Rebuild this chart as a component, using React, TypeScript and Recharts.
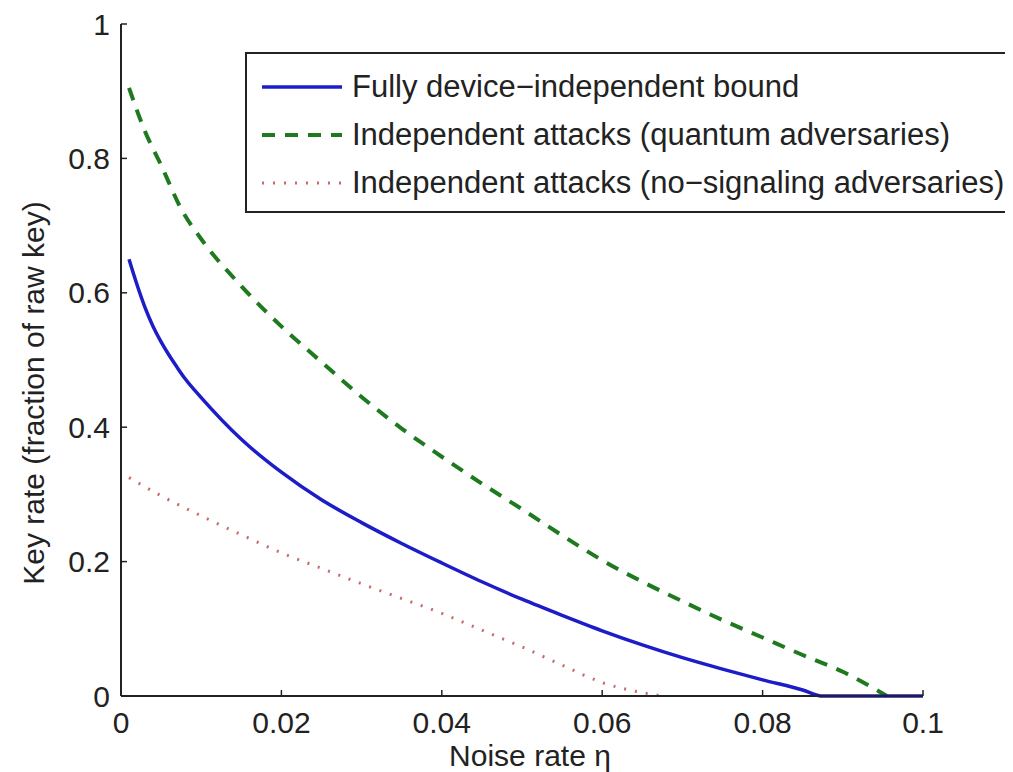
import { CartesianGrid, Legend, Line, LineChart, XAxis, YAxis } from "recharts";

// noise rate η vs key rate
const etaFull = [0.001, 0.002, 0.003, 0.004, 0.005, 0.006, 0.007, 0.008, 0.01, 0.015, 0.02, 0.025, 0.03, 0.035, 0.04, 0.045, 0.05, 0.055, 0.06, 0.065, 0.07, 0.075, 0.08, 0.085, 0.0875, 0.09, 0.095, 0.1];
const rateFull = [0.65, 0.612, 0.578, 0.55, 0.527, 0.507, 0.489, 0.472, 0.444, 0.382, 0.333, 0.292, 0.258, 0.227, 0.198, 0.17, 0.144, 0.12, 0.097, 0.076, 0.057, 0.04, 0.024, 0.009, 0, 0, 0, 0];

const etaQuantum = [0.001, 0.003, 0.005, 0.0075, 0.01, 0.015, 0.02, 0.025, 0.03, 0.035, 0.04, 0.045, 0.05, 0.055, 0.06, 0.065, 0.07, 0.075, 0.08, 0.085, 0.09, 0.0955];
const rateQuantum = [0.905, 0.84, 0.79, 0.725, 0.68, 0.61, 0.55, 0.497, 0.445, 0.398, 0.356, 0.316, 0.278, 0.239, 0.202, 0.17, 0.141, 0.113, 0.087, 0.061, 0.036, 0];

const etaNoSignal = [0.001, 0.005, 0.01, 0.015, 0.02, 0.025, 0.03, 0.035, 0.04, 0.045, 0.05, 0.055, 0.06, 0.065, 0.0675];
const rateNoSignal = [0.325, 0.298, 0.268, 0.24, 0.213, 0.19, 0.167, 0.145, 0.123, 0.098, 0.073, 0.046, 0.02, 0.005, 0];

const xTicks = [0, 0.02, 0.04, 0.06, 0.08, 0.1];
const yTicks = [0, 0.2, 0.4, 0.6, 0.8, 1];

const seriesNames = [
  "Fully device\u2212independent bound",
  "Independent attacks (quantum adversaries)",
  "Independent attacks (no\u2212signaling adversaries)",
];

const toPoints = (xs: number[], ys: number[]) => xs.map((eta, i) => ({ eta, rate: ys[i] }));

const FONT = "'Liberation Sans', Arial, Helvetica, sans-serif";
const INK = "#222";
const BLUE = "#1c1cc8";
const GREEN = "#1f7a1f";
const RED = "#c96a6a";

const styles = [
  { color: BLUE, width: 3.5, dash: undefined as string | undefined },
  { color: GREEN, width: 4, dash: "13 10" },
  { color: RED, width: 3, dash: "2 9" },
];

function LegendBox() {
  return (
    <div
      style={{
        width: 767,
        height: 161,
        border: `2px solid ${INK}`,
        background: "#fff",
        boxSizing: "border-box",
        paddingTop: 9,
        fontFamily: FONT,
        fontSize: 31,
        color: INK,
      }}
    >
      {seriesNames.map((name, i) => (
        <div key={name} style={{ display: "flex", alignItems: "center", height: 48, whiteSpace: "nowrap" }}>
          <svg width={90} height={20} style={{ flex: "none", marginLeft: 15 }}>
            <line
              x1={0}
              x2={80}
              y1={10}
              y2={10}
              stroke={styles[i].color}
              strokeWidth={styles[i].width}
              strokeDasharray={styles[i].dash}
            />
          </svg>
          <span style={{ lineHeight: "48px" }}>{name}</span>
        </div>
      ))}
    </div>
  );
}

export default function App() {
  return (
    <div style={{ position: "relative", left: -8, top: -8, width: 1013, height: 772, background: "#fff" }}>
      <LineChart width={1013} height={772} margin={{ top: 24, right: 90, bottom: 16, left: 21 }}>
        <CartesianGrid stroke="none" />
        <XAxis
          dataKey="eta"
          type="number"
          domain={[0, 0.1]}
          ticks={xTicks}
          tickFormatter={(v) => String(v)}
          height={60}
          tickSize={-6}
          tickMargin={22}
          axisLine={{ stroke: INK, strokeWidth: 2 }}
          tickLine={{ stroke: INK, strokeWidth: 1.5 }}
          tick={{ fill: INK, fontSize: 30, fontFamily: FONT }}
          label={{
            value: "Noise rate \u03b7",
            content: () => (
              <text x={530} y={766} textAnchor="middle" fill={INK} fontSize={30} fontFamily={FONT}>
                Noise rate {"\u03b7"}
              </text>
            ),
          }}
        />
        <XAxis xAxisId="top" orientation="top" type="number" domain={[0, 0.1]} height={0} tick={false} tickLine={false} axisLine={{ stroke: INK, strokeWidth: 2 }} />
        <YAxis
          type="number"
          domain={[0, 1]}
          ticks={yTicks}
          tickFormatter={(v) => String(v)}
          width={100}
          tickSize={-6}
          tickMargin={17}
          axisLine={{ stroke: INK, strokeWidth: 2 }}
          tickLine={{ stroke: INK, strokeWidth: 1.5 }}
          tick={{ fill: INK, fontSize: 30, fontFamily: FONT }}
          label={{
            value: "Key rate (fraction of raw key)",
            content: () => (
              <text
                x={44}
                y={393}
                transform="rotate(-90 44 393)"
                textAnchor="middle"
                fill={INK}
                fontSize={30}
                fontFamily={FONT}
              >
                Key rate (fraction of raw key)
              </text>
            ),
          }}
        />
        <YAxis yAxisId="right" orientation="right" type="number" domain={[0, 1]} width={0} tick={false} tickLine={false} axisLine={{ stroke: INK, strokeWidth: 2 }} />
        <Legend
          layout="horizontal"
          verticalAlign="middle"
          align="center"
          wrapperStyle={{ left: 245, top: 52, width: 767, height: 161 }}
          content={() => <LegendBox />}
        />
        <Line
          data={toPoints(etaNoSignal, rateNoSignal)}
          dataKey="rate"
          type="monotone"
          stroke={RED}
          strokeWidth={3}
          strokeDasharray="2 9"
          dot={false}
          isAnimationActive={false}
        />
        <Line
          data={toPoints(etaQuantum, rateQuantum)}
          dataKey="rate"
          type="monotone"
          stroke={GREEN}
          strokeWidth={4}
          strokeDasharray="13 10"
          dot={false}
          isAnimationActive={false}
        />
        <Line
          data={toPoints(etaFull, rateFull)}
          dataKey="rate"
          type="monotone"
          stroke={BLUE}
          strokeWidth={3.5}
          dot={false}
          isAnimationActive={false}
        />
      </LineChart>
    </div>
  );
}
